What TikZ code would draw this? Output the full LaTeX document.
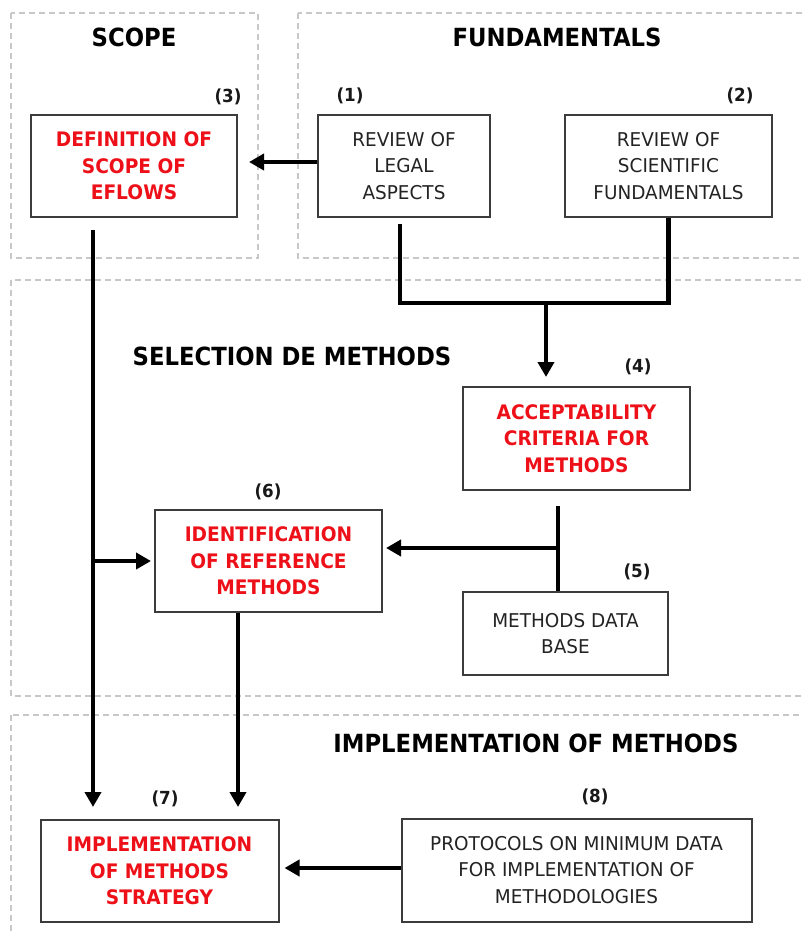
\documentclass[tikz,border=0pt]{standalone}
\usepackage{fontspec}
\setmainfont{DejaVu Sans}
\newfontfamily\bodyf{DejaVu Sans}[FakeStretch=0.97]
\newfontfamily\redf{DejaVu Sans}[FakeStretch=0.93]
\newfontfamily\titf{DejaVu Sans}[FakeStretch=0.91]
\usetikzlibrary{arrows.meta}
\definecolor{boxred}{RGB}{238,16,24}
\definecolor{txt}{RGB}{35,35,35}
\definecolor{regioncol}{RGB}{200,200,200}
\definecolor{framecol}{RGB}{60,60,60}
\begin{document}
\begin{tikzpicture}[x=1pt,y=-1pt,
  regionbox/.style={draw=regioncol,line width=1.2pt,dash pattern=on 6pt off 4pt},
  title/.style={inner sep=0pt,text=black,font={\titf\bfseries\fontsize{25}{28}\selectfont}},
  numlabel/.style={inner sep=0pt,text=black!90,font={\redf\bfseries\fontsize{18}{20}\selectfont}},
  plainbox/.style={draw=framecol,line width=2pt,fill=white,inner sep=0pt,align=center,
    text=txt,font={\bodyf\fontsize{19}{26.5}\selectfont}},
  redbox/.style={plainbox,text=boxred,font={\redf\bfseries\fontsize{20}{26.5}\selectfont}},
  conn/.style={line width=4.5pt,draw=black},
  arrow/.style={conn,-{Triangle[length=15pt,width=16pt]}}]
\useasboundingbox (0,0) rectangle (803,935);
\fill[white] (0,0) rectangle (803,935);
% regions
\draw[regionbox] (11,13) rectangle (258,258);
\draw[regionbox] (298,13) rectangle (810,258);
\draw[regionbox] (11,280) rectangle (810,696);
\draw[regionbox] (11,715) rectangle (810,945);
% titles
\node[title] (tscope) at (134,37) {SCOPE};
\node[title] (tfund) at (557,37) {FUNDAMENTALS};
\node[title] (tsel) at (292,356) {SELECTION DE METHODS};
\node[title] (timpl) at (536,743) {IMPLEMENTATION OF METHODS};
% boxes
\node[redbox,minimum width=206pt,minimum height=102pt] (s3) at (134,166) {DEFINITION OF\\SCOPE OF\\EFLOWS};
\node[plainbox,minimum width=172pt,minimum height=102pt] (s1) at (404,166) {REVIEW OF\\LEGAL\\ASPECTS};
\node[plainbox,minimum width=207pt,minimum height=102pt] (s2) at (668.5,166) {REVIEW OF\\SCIENTIFIC\\FUNDAMENTALS};
\node[redbox,minimum width=227pt,minimum height=103pt] (s4) at (576.5,438.5) {ACCEPTABILITY\\CRITERIA FOR\\METHODS};
\node[redbox,minimum width=227pt,minimum height=102pt] (s6) at (268.5,561) {IDENTIFICATION\\OF REFERENCE\\METHODS};
\node[plainbox,minimum width=205pt,minimum height=83pt] (s5) at (565.5,633.5) {METHODS DATA\\BASE};
\node[redbox,minimum width=238pt,minimum height=102pt] (s7) at (159.5,871) {IMPLEMENTATION\\OF METHODS\\STRATEGY};
\node[plainbox,minimum width=350pt,minimum height=103pt] (s8) at (576.5,870) {PROTOCOLS ON MINIMUM DATA\\FOR IMPLEMENTATION OF\\METHODOLOGIES};
% number labels
\node[numlabel] (n3) at (228,97) {(3)};
\node[numlabel] (n1) at (350,96) {(1)};
\node[numlabel] (n2) at (740,96) {(2)};
\node[numlabel] (n4) at (638,367) {(4)};
\node[numlabel] (n6) at (268,492) {(6)};
\node[numlabel] (n5) at (637,572) {(5)};
\node[numlabel] (n7) at (165,799) {(7)};
\node[numlabel] (n8) at (595,797) {(8)};
% helper coordinates
\coordinate (c93) at (93,0);
\coordinate (c238) at (238,0);
\coordinate (c558) at (558,0);
\coordinate (j) at (546,303);
\coordinate (h6) at (558,548);
\coordinate (a1) at ([yshift=4pt]s1.west);
\coordinate (b1) at ([xshift=-4pt,yshift=-6pt]s1.south);
\coordinate (t4) at ([yshift=-15pt]s4.south);
\coordinate (a8) at ([yshift=2pt]s8.west);
% connectors
\draw[arrow,shorten >=11pt] (a1) -- (a1 -| s3.east);
\draw[arrow,shorten <=12pt,shorten >=12pt] (s3.south -| c93) -- (s7.north -| c93);
\draw[arrow,shorten >=3pt] (s6.west -| c93) -- (s6.west);
\draw[conn] (b1) |- (j -| s2.south) -- (s2.south);
\draw[arrow,shorten >=9pt] (j) -- (s4.north -| j);
\draw[conn] (t4 -| c558) -- (s5.north -| c558);
\draw[arrow,shorten >=3pt] (h6) -- (s6.east |- h6);
\draw[arrow,shorten >=12pt] (s6.south -| c238) -- (s7.north -| c238);
\draw[arrow,shorten >=5pt] (a8) -- (a8 -| s7.east);
\end{tikzpicture}
\end{document}
